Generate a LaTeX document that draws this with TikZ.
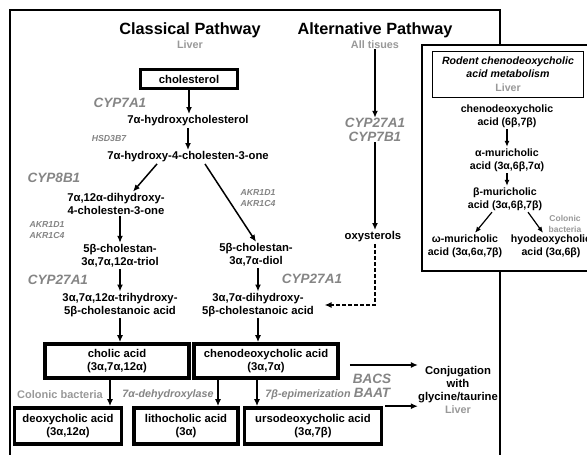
\documentclass[tikz,border=0pt]{standalone}
\usepackage{fontspec}
\setmainfont{Liberation Sans}
\usetikzlibrary{calc,arrows.meta}

\definecolor{enzgray}{gray}{0.52}
\definecolor{tissuegray}{gray}{0.6}

\begin{document}
\begin{tikzpicture}[x=1pt,y=-1pt,
  chem/.style={font=\bfseries\fontsize{11.3}{13}\selectfont,align=center,inner sep=1.5pt},
  insetchem/.style={chem,font=\bfseries\fontsize{10.6}{13}\selectfont},
  acidbox/.style={chem,draw,line width=3.6pt,inner sep=0pt},
  enz/.style={font=\bfseries\itshape\fontsize{13.5}{14.5}\selectfont,text=enzgray,align=center,inner sep=0pt},
  enzsmall/.style={enz,font=\bfseries\itshape\fontsize{8.7}{10.5}\selectfont},
  enzmid/.style={enz,font=\bfseries\itshape\fontsize{10.7}{12}\selectfont},
  tissue/.style={font=\bfseries\fontsize{10.8}{12}\selectfont,text=tissuegray,align=center,inner sep=0pt},
  heading/.style={font=\bfseries\fontsize{16.3}{18}\selectfont,inner sep=0pt},
  arr/.style={-{Latex[length=7pt,width=6pt]},line width=1.5pt},
  thinarr/.style={-{Latex[length=6pt,width=5pt]},line width=1.2pt}]
\clip (0,0) rectangle (587,455);
\fill[white] (0,0) rectangle (587,455);

% outer frame
\draw[line width=1.7pt] (10,470) -- (10,10) -- (500,10) -- (500,470);

% classical pathway
\node[heading] (classtitle) at (190,30) {Classical Pathway};
\node[tissue] (classliver) at (190,45) {Liver};
\node[acidbox,line width=3.4pt,minimum width=97pt,minimum height=19pt] (chol) at (189,79) {cholesterol};
\node[enz] (cyp7a1) at (120,103) {CYP7A1};
\node[chem] (hchol) at (188,121) {7α-hydroxycholesterol};
\node[enzsmall] (hsd) at (109,139) {HSD3B7};
\node[chem] (hc4) at (188,157) {7α-hydroxy-4-cholesten-3-one};
\node[enz] (cyp8b1) at (54,178) {CYP8B1};
\node[chem] (dh) at (116,204) {7α,12α-dihydroxy-\\4-cholesten-3-one};
\node[enzsmall] (akrleft) at (47,230) {AKR1D1\\AKR1C4};
\node[enzsmall] (akrright) at (258,198) {AKR1D1\\AKR1C4};
\node[chem] (triol) at (120,256) {5β-cholestan-\\3α,7α,12α-triol};
\node[chem] (diol) at (256,255) {5β-cholestan-\\3α,7α-diol};
\node[enz] (cyp27left) at (58,280) {CYP27A1};
\node[enz] (cyp27right) at (312,279) {CYP27A1};
\node[chem] (thca) at (120,305) {3α,7α,12α-trihydroxy-\\5β-cholestanoic acid};
\node[chem] (dhca) at (258,305) {3α,7α-dihydroxy-\\5β-cholestanoic acid};

% alternative pathway
\node[heading] (alttitle) at (375,30) {Alternative Pathway};
\node[tissue] (alltis) at (375,45) {All tisues};
\node[enz] (altenz) at (375,130) {CYP27A1\\CYP7B1};
\node[chem] (oxy) at (373,237) {oxysterols};

% primary and secondary bile acids
\node[acidbox,minimum width=144pt,minimum height=34pt] (cholic) at (117,361) {cholic acid\\(3α,7α,12α)};
\node[acidbox,minimum width=144pt,minimum height=34pt] (cdca) at (266,361) {chenodeoxycholic acid\\(3α,7α)};
\node[acidbox,minimum width=107pt,minimum height=36pt] (deoxy) at (68,426) {deoxycholic acid\\(3α,12α)};
\node[acidbox,minimum width=104pt,minimum height=36pt] (litho) at (186,426) {lithocholic acid\\(3α)};
\node[acidbox,minimum width=137pt,minimum height=36pt] (urso) at (313,426) {ursodeoxycholic acid\\(3α,7β)};
\node[tissue,font=\bfseries\fontsize{11}{12}\selectfont] (colbac) at (60,395) {Colonic bacteria};
\node[enzmid] (dehyd) at (168,395) {7α-dehydroxylase};
\node[enzmid] (epim) at (308,395) {7β-epimerization};
\node[enz] (bacs) at (372,386) {BACS\\BAAT};
\node[chem,inner sep=0pt] (conj) at (458,390) {Conjugation\\with\\glycine/taurine\\\textcolor{tissuegray}{\fontsize{10.8}{13}\selectfont Liver}};

% arrows, classical
\draw[arr] (chol.south) -- (chol.south |- hchol.north);
\draw[arr] (hchol) -- (hc4);
\draw[arr] ($(hc4.south)+(-31,0)$) -- ($(dh.north)+(17,0)$);
\draw[arr] ($(hc4.south)+(17,0)$) -- (diol.north);
\draw[arr] (dh.south -| triol.north) -- (triol.north);
\draw[arr] (triol) -- (thca);
\draw[arr] (diol.south -| dhca.north) -- (dhca.north);
\draw[arr] (thca.south) -- (thca.south |- cholic.north);
\draw[arr] (dhca.south) -- (dhca.south |- cdca.north);

% arrows, alternative
\draw[arr] (alltis.south -| alttitle.south) -- (alttitle.south |- altenz.north);
\draw[arr] (altenz.south) -- (altenz.south |- oxy.north);
\draw[arr,dash pattern=on 4pt off 2pt] (altenz.south |- oxy.south) |- ([xshift=9pt]dhca.east);

% arrows, bacteria and conjugation
\draw[arr] ([xshift=-7pt]cholic.south) -- ([xshift=-7pt]cholic.south |- deoxy.north);
\draw[arr] ([xshift=-48pt]cdca.south) -- ([xshift=-48pt]cdca.south |- litho.north);
\draw[arr] ([xshift=-9pt]cdca.south) -- ([xshift=-9pt]cdca.south |- urso.north);
\draw[arr] ([xshift=10pt,yshift=-4pt]cdca.east) -- ([yshift=-4pt]cdca.east -| conj.west);
\draw[arr] ([xshift=2pt]urso.north east) -- (urso.north east -| conj.west);

% rodent inset
\draw[fill=white,line width=1.7pt] (422,45) rectangle (620,271);
\node[draw,line width=0.9pt,minimum width=151pt,minimum height=46pt,align=center,
  font=\bfseries\fontsize{10.6}{13.5}\selectfont] (rodent) at (508,74)
  {\textit{Rodent chenodeoxycholic}\\\textit{acid metabolism}\\\textcolor{tissuegray}{Liver}};
\node[insetchem] (icdca) at (507,116) {chenodeoxycholic\\acid (6β,7β)};
\node[insetchem] (iamc) at (507,160) {α-muricholic\\acid (3α,6β,7α)};
\node[insetchem] (ibmc) at (505,199) {β-muricholic\\acid (3α,6β,7β)};
\node[insetchem] (iwmc) at (465,246) {ω-muricholic\\acid (3α,6α,7β)};
\node[insetchem] (ihdca) at (551,246) {hyodeoxycholic\\acid (3α,6β)};
\node[tissue,font=\bfseries\fontsize{8.5}{10.5}\selectfont] (icolbac) at (565,224) {Colonic\\bacteria};
\draw[thinarr] (icdca.south) -- (icdca.south |- iamc.north);
\draw[thinarr] (iamc.south) -- (iamc.south |- ibmc.north);
\draw[thinarr] ($(ibmc.south)+(-13,0)$) -- ($(iwmc.north)+(10,0)$);
\draw[thinarr] ($(ibmc.south)+(23,0)$) -- ($(ihdca.north)+(-8,0)$);
\end{tikzpicture}
\end{document}
